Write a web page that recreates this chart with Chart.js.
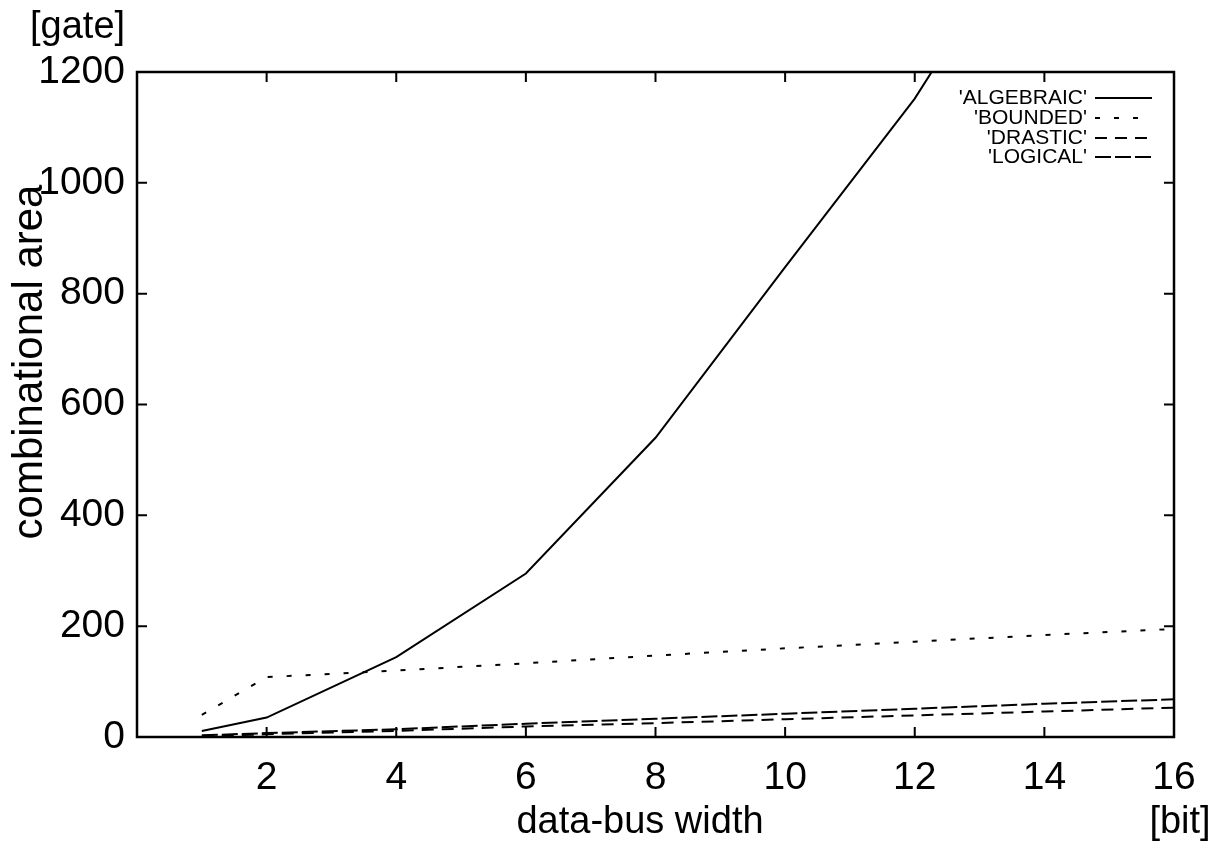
<!DOCTYPE html>
<html>
<head>
<meta charset="utf-8">
<script src="https://cdn.jsdelivr.net/npm/chart.js@4"></script>
<style>
  html, body { margin: 0; padding: 0; background: #fff; }
  #wrap { width: 1219px; height: 860px; }
</style>
</head>
<body>
<div id="wrap"><canvas id="chart1"></canvas></div>
<script>
// data (data-bus width in bits -> gates)
const widths = [1, 2, 4, 6, 8, 10, 12, 14, 16];
const algebraic = [11, 35, 144, 295, 540, 848, 1152, 1520, 1950];
const bounded = [40, 108, 120, 133, 147, 160, 172, 184, 195];
const drastic = [1, 5, 11, 19, 25, 32, 39, 46, 53];
const logical = [3, 7, 14, 24, 33, 42, 51, 60, 68];

const seriesNames = ["'ALGEBRAIC'", "'BOUNDED'", "'DRASTIC'", "'LOGICAL'"];
const xTicks = [2, 4, 6, 8, 10, 12, 14, 16];
const yTicks = [0, 200, 400, 600, 800, 1000, 1200];

const FONT = '"Liberation Sans", Arial, Helvetica, sans-serif';

function toPoints(vals) {
    return widths.map((w, i) => ({ x: w, y: vals[i] }));
}

// frame, inward ticks, axis titles and legend (gnuplot look)
const gnuplotLook = {
    id: 'gnuplotLook',
    afterDraw(chart) {
        const ctx = chart.ctx;
        const a = chart.chartArea;
        const xs = chart.scales.x;
        const ys = chart.scales.y;
        ctx.save();
        ctx.strokeStyle = '#000';
        ctx.lineWidth = 2.5;
        ctx.strokeRect(a.left, a.top, a.right - a.left, a.bottom - a.top);

        // inward ticks on all four sides
        ctx.lineWidth = 2;
        const tl = 10;
        ctx.beginPath();
        xTicks.forEach(v => {
            const px = xs.getPixelForValue(v);
            ctx.moveTo(px, a.bottom); ctx.lineTo(px, a.bottom - tl);
            ctx.moveTo(px, a.top); ctx.lineTo(px, a.top + tl);
        });
        yTicks.forEach(v => {
            const py = ys.getPixelForValue(v);
            ctx.moveTo(a.left, py); ctx.lineTo(a.left + tl, py);
            ctx.moveTo(a.right, py); ctx.lineTo(a.right - tl, py);
        });
        ctx.stroke();

        // titles
        ctx.fillStyle = '#000';
        ctx.font = '38px ' + FONT;
        ctx.textBaseline = 'middle';
        ctx.textAlign = 'left';
        ctx.fillText('[gate]', 30, 28);
        ctx.textAlign = 'center';
        ctx.fillText('data-bus width', 640, 823);
        ctx.fillText('[bit]', 1180, 823);
        ctx.save();
        ctx.font = '42px ' + FONT;
        ctx.translate(30, 362);
        ctx.rotate(-Math.PI / 2);
        ctx.fillText('combinational area', 0, 0);
        ctx.restore();

        // legend, text right aligned with the line sample after it
        ctx.font = '21px ' + FONT;
        ctx.textAlign = 'right';
        const rows = [98, 118, 138, 157];
        chart.data.datasets.forEach((ds, i) => {
            const y = rows[i];
            ctx.fillText(ds.label, 1087, y);
            ctx.save();
            ctx.lineWidth = 1.8;
            ctx.setLineDash(ds.borderDash || []);
            ctx.beginPath();
            ctx.moveTo(1095, y);
            ctx.lineTo(1152, y);
            ctx.stroke();
            ctx.restore();
        });
        ctx.restore();
    }
};

new Chart(document.getElementById('chart1'), {
    type: 'line',
    data: {
        datasets: [
            { label: seriesNames[0], data: toPoints(algebraic), borderDash: [] },
            { label: seriesNames[1], data: toPoints(bounded), borderDash: [5, 14] },
            { label: seriesNames[2], data: toPoints(drastic), borderDash: [12, 8] },
            { label: seriesNames[3], data: toPoints(logical), borderDash: [16, 4] }
        ].map(ds => Object.assign(ds, {
            borderColor: '#000',
            borderWidth: 2,
            pointRadius: 0,
            fill: false,
            tension: 0
        }))
    },
    plugins: [gnuplotLook],
    options: {
        responsive: true,
        maintainAspectRatio: false,
        animation: false,
        layout: { padding: { top: 72, right: 45, left: 0, bottom: 0 } },
        plugins: {
            legend: { display: false },
            tooltip: { enabled: false }
        },
        scales: {
            x: {
                type: 'linear',
                min: 0,
                max: 16,
                grid: { display: false, drawTicks: false },
                border: { display: false },
                afterBuildTicks: s => { s.ticks = xTicks.map(v => ({ value: v })); },
                afterFit: s => { s.height = 123; },
                ticks: {
                    color: '#000',
                    padding: 18,
                    maxRotation: 0,
                    autoSkip: false,
                    font: { family: FONT, size: 39 },
                    callback: v => String(v)
                }
            },
            y: {
                min: 0,
                max: 1200,
                grid: { display: false, drawTicks: false },
                border: { display: false },
                afterBuildTicks: s => { s.ticks = yTicks.map(v => ({ value: v })); },
                afterFit: s => { s.width = 137; },
                ticks: {
                    color: '#000',
                    padding: 12,
                    font: { family: FONT, size: 39 },
                    callback: v => String(v)
                }
            }
        }
    }
});
</script>
</body>
</html>
